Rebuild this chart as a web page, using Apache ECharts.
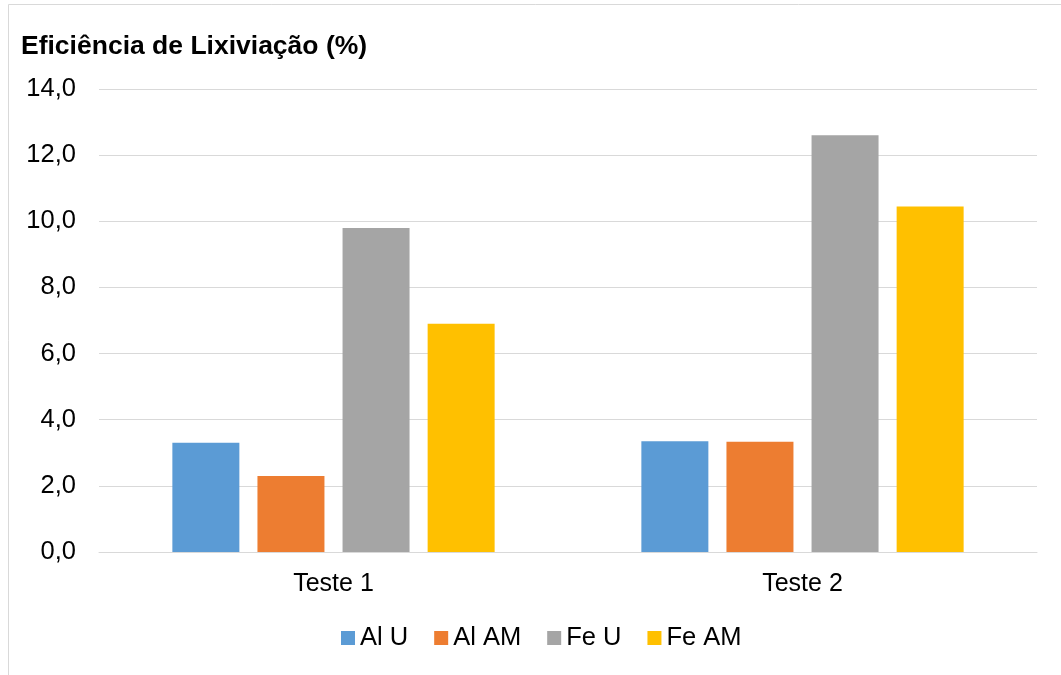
<!DOCTYPE html>
<html>
<head>
<meta charset="utf-8">
<script src="https://cdn.jsdelivr.net/npm/echarts@6/dist/echarts.min.js"></script>
<style>
  html, body { margin: 0; padding: 0; background: #fff; }
  #chart { width: 1061px; height: 675px; }
</style>
</head>
<body>
<div id="chart"></div>
<script>
// Leaching efficiency per test, by element and acid
const categories = ['Teste 1', 'Teste 2'];
const seriesNames = ['Al U', 'Al AM', 'Fe U', 'Fe AM'];
const alU = [3.3, 3.35];
const alAM = [2.3, 3.33];
const feU = [9.8, 12.6];
const feAM = [6.9, 10.45];
const colors = ['#5B9BD5', '#ED7D31', '#A5A5A5', '#FFC000'];
const yTicks = { min: 0, max: 14, interval: 2 };

const values = [alU, alAM, feU, feAM];
const font = 'Liberation Sans, Arial, sans-serif';

const chart = echarts.init(document.getElementById('chart'), null, { renderer: 'canvas' });
chart.setOption({
  animation: false,
  backgroundColor: '#fff',
  graphic: [{
    type: 'rect',
    shape: { x: 8.5, y: 4.5, width: 1200, height: 900 },
    style: { fill: 'none', stroke: '#d9d9d9', lineWidth: 1 },
    silent: true
  }, {
    type: 'text',
    left: 21,
    top: 33,
    style: {
      text: 'Eficiência de Lixiviação (%)',
      font: 'bold 26.5px ' + font,
      fill: '#000'
    }
  }],
  grid: { left: 99, right: 24, top: 89, bottom: 123, containLabel: false },
  legend: {
    left: 341,
    top: 625,
    padding: 0,
    itemWidth: 14,
    itemHeight: 14,
    itemGap: 26,
    icon: 'rect',
    textStyle: { fontFamily: font, fontSize: 25.5, color: '#000' },
    data: seriesNames
  },
  xAxis: {
    type: 'category',
    data: categories,
    axisLine: { lineStyle: { color: '#d9d9d9', width: 1 } },
    axisTick: { show: false },
    axisLabel: { fontFamily: font, fontSize: 25, color: '#000', margin: 20 }
  },
  yAxis: {
    type: 'value',
    min: yTicks.min,
    max: yTicks.max,
    interval: yTicks.interval,
    axisLine: { show: false },
    axisTick: { show: false },
    splitLine: { lineStyle: { color: '#d9d9d9', width: 1 } },
    axisLabel: {
      fontFamily: font, fontSize: 25.5, color: '#000', margin: 23,
      formatter: v => v.toFixed(1).replace('.', ',')
    }
  },
  series: seriesNames.map((name, i) => ({
    name,
    type: 'bar',
    data: values[i],
    barWidth: 67,
    barGap: '27%',
    itemStyle: { color: colors[i] }
  }))
});
</script>
</body>
</html>
